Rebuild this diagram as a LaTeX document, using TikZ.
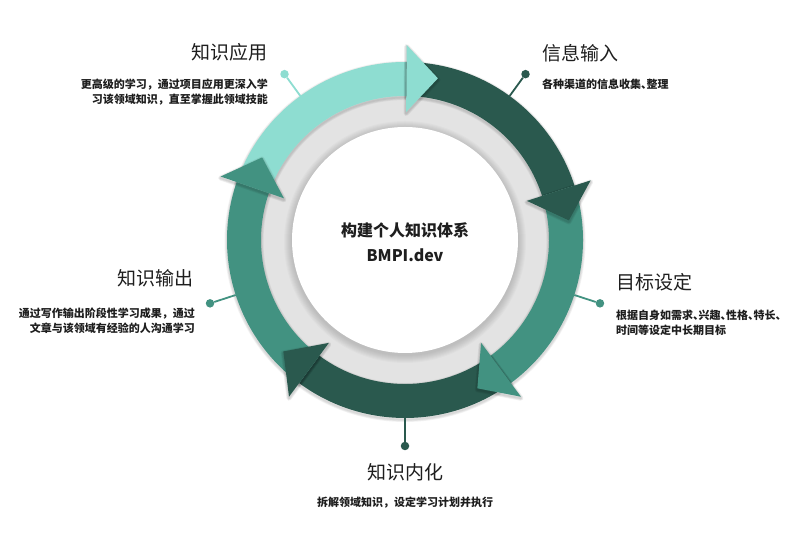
\documentclass[tikz,border=0pt]{standalone}
\usepackage{fontspec}
\setmainfont{Noto Sans CJK SC}
\newfontfamily\haltfont{Noto Sans CJK SC}[RawFeature=+halt]
\newcommand{\dun}{{\haltfont 、}}
\usetikzlibrary{calc}
\definecolor{lightc}{HTML}{8EDDD1}
\definecolor{darkc}{HTML}{2A594E}
\definecolor{medc}{HTML}{429281}
\definecolor{ringgray}{HTML}{E3E3E3}
\definecolor{txt}{HTML}{1E1E1E}
\newcommand{\bodypath}[2]{(#1:178) arc[start angle=#1, end angle=#2, radius=178] -- (#2:144) arc[start angle=#2, end angle=#1, radius=144] -- cycle}
\newcommand{\headpath}[2]{(#1:128) -- (#1:195) -- (#2:165) -- cycle}
\newcommand{\ringbody}[3]{%
  \foreach \w in {5,3.4,1.8} \draw[black, opacity=0.05, line width=\w pt, line join=round, yshift=-1.5pt] \bodypath{#1}{#2};
  \fill[#3] \bodypath{#1}{#2};}
\newcommand{\ringhead}[3]{%
  \foreach \w in {5,3.4,1.8} \draw[black, opacity=0.06, line width=\w pt, line join=round, yshift=-1.5pt] \headpath{#1}{#2};
  \fill[#3] \headpath{#1}{#2};}
\begin{document}
\begin{tikzpicture}[x=1pt,y=1pt,
  title/.style={font=\fontsize{19}{22}\selectfont, text=txt, inner sep=0pt},
  desc/.style={font=\fontsize{11}{15}\selectfont\bfseries, text=txt, inner sep=0pt},
  center text/.style={font=\fontsize{16}{25}\selectfont\bfseries, text=txt, inner sep=0pt, align=center},
  pindot/.style={circle, inner sep=0pt, minimum size=8.5pt},
  pinline/.style={line width=1.8pt}]
\useasboundingbox (0,0) rectangle (810,534);
\fill[white] (0,0) rectangle (810,534);
\coordinate (C) at (405,294);
\begin{scope}[shift={(C)}]
  \fill[ringgray] (0,0) circle (150);
  \foreach \k in {1,...,8} \fill[black,opacity=0.02] (0,-2) circle ({113+\k});
  \fill[white] (0,0) circle (113);
  % ring bodies
  \ringbody{161}{89.5}{lightc}
  \ringbody{89.5}{17.8}{darkc}
  \ringbody{17.8}{-53.5}{medc}
  \ringbody{-53.5}{-126.5}{darkc}
  \ringbody{-126.5}{-199}{medc}
  % arrow heads
  \ringhead{89.5}{78.5}{lightc}
  \ringhead{17.8}{6.8}{darkc}
  \ringhead{-53.5}{-64}{medc}
  \ringhead{-126.5}{-137.5}{darkc}
  \ringhead{-199}{-210}{medc}
  % pins
  \coordinate (pA0) at (126:178);
  \coordinate (pB0) at (54:178);
  \coordinate (pC0) at (-18:178);
  \coordinate (pD0) at (-90:178);
  \coordinate (pE0) at (198:178);
  \node[pindot, fill=lightc] (pA) at (126:205) {};
  \node[pindot, fill=darkc] (pB) at (54:205) {};
  \node[pindot, fill=medc] (pC) at (-18:205) {};
  \node[pindot, fill=darkc] (pD) at (-90:206) {};
  \node[pindot, fill=medc] (pE) at (198:205) {};
  \draw[pinline, lightc] (pA0) -- (pA);
  \draw[pinline, darkc] (pB0) -- (pB);
  \draw[pinline, medc] (pC0) -- (pC);
  \draw[pinline, darkc] (pD0) -- (pD);
  \draw[pinline, medc] (pE0) -- (pE);
\end{scope}
% center
\node[center text] (ct) at (405,291.5) {构建个人知识体系\\BMPI.dev};
% A
\node[title, anchor=east] (tA) at (268,482) {知识应用};
\node[desc, anchor=east, align=right] (dA) at (268,442) {更高级的学习，通过项目应用更深入学\\习该领域知识，直至掌握此领域技能};
% B
\node[title, anchor=west] (tB) at (542,481) {信息输入};
\node[desc, anchor=west] (dB) at (542,450) {各种渠道的信息收集\dun 整理};
% C
\node[title, anchor=west] (tC) at (616,252) {目标设定};
\node[desc, anchor=west, align=left] (dC) at (616,211.5) {根据自身如需求\dun 兴趣\dun 性格\dun 特长\dun\\时间等设定中长期目标};
% D
\node[title] (tD) at (405,62) {知识内化};
\node[desc] (dD) at (405,31) {拆解领域知识，设定学习计划并执行};
% E
\node[title, anchor=east] (tE) at (194,256) {知识输出};
\node[desc, anchor=east, align=right] (dE) at (195,213.5) {通过写作输出阶段性学习成果，通过\\文章与该领域有经验的人沟通学习};
\end{tikzpicture}
\end{document}
